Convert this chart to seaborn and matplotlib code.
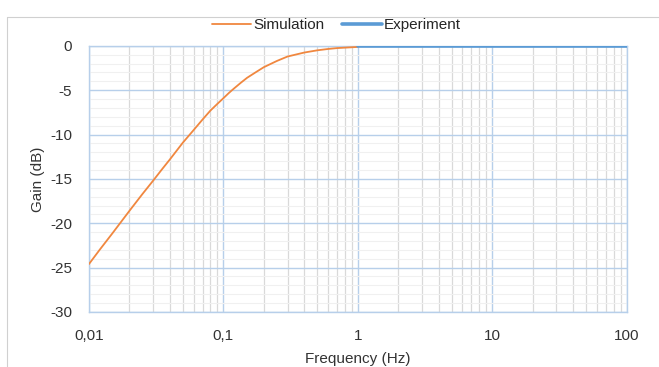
import numpy as np
import pandas as pd
import matplotlib.pyplot as plt
import seaborn as sns
from matplotlib.lines import Line2D
from matplotlib.ticker import FixedLocator, FixedFormatter, LogLocator, NullFormatter

# values
SIM_FREQ = [0.01, 0.012, 0.015, 0.02, 0.025, 0.03, 0.035, 0.04, 0.05, 0.06, 0.07, 0.08, 0.09,
            0.1, 0.11, 0.12, 0.135, 0.15, 0.175, 0.2, 0.25, 0.3, 0.4, 0.5, 0.6, 0.7, 0.8, 1.0]
SIM_GAIN = [-24.6, -23.0, -21.1, -18.6, -16.7, -15.2, -13.9, -12.8, -10.9, -9.5, -8.3, -7.3, -6.55,
            -5.9, -5.3, -4.8, -4.15, -3.6, -2.95, -2.4, -1.7, -1.2, -0.75, -0.5, -0.35, -0.25, -0.2, -0.12]
EXP_FREQ = [1, 2, 5, 10, 20, 50, 100]
EXP_GAIN = [0, 0, 0, 0, 0, 0, 0]

X_TICKS = [0.01, 0.1, 1, 10, 100]
X_LABELS = ['0,01', '0,1', '1', '10', '100']
Y_TICKS = [0, -5, -10, -15, -20, -25, -30]

sns.set_style('white')
plt.rcParams['font.family'] = ['Liberation Sans', 'DejaVu Sans']
plt.rcParams['font.size'] = 11
plt.rcParams['axes.unicode_minus'] = False

sim = pd.DataFrame({'freq': SIM_FREQ, 'gain': SIM_GAIN})
exp = pd.DataFrame({'freq': EXP_FREQ, 'gain': EXP_GAIN})

fig = plt.figure(figsize=(6.59, 3.67), dpi=100)
ax = fig.add_axes([0.135, 0.150, 0.816, 0.725])

sns.lineplot(ax=ax, data=sim, x='freq', y='gain', color='#f0873f', lw=1.3, label='Simulation', zorder=4)
sns.lineplot(ax=ax, data=exp, x='freq', y='gain', color='#5b9bd5', lw=2.6, label='Experiment', zorder=5)

ax.set_xscale('log')
ax.set_xlim(0.01, 100)
ax.set_ylim(-30, 0)

ax.xaxis.set_major_locator(FixedLocator(X_TICKS))
ax.xaxis.set_major_formatter(FixedFormatter(X_LABELS))
ax.xaxis.set_minor_locator(LogLocator(base=10, subs=np.arange(2, 10)))
ax.xaxis.set_minor_formatter(NullFormatter())
ax.set_yticks(Y_TICKS)
ax.set_yticks(np.arange(-30, 1, 1), minor=True)

# gridlines like the spreadsheet chart
ax.grid(which='major', axis='both', color='#b7cfea', lw=1.0, zorder=1)
ax.grid(which='minor', axis='x', color='#d9d9d9', lw=0.9, zorder=0)
ax.grid(which='minor', axis='y', color='#f0f0f0', lw=0.8, zorder=0)
ax.set_axisbelow(True)
ax.tick_params(which='both', length=0, labelsize=11, colors='#333333')
ax.tick_params(axis='x', pad=12)
ax.tick_params(axis='y', pad=12)
for s in ax.spines.values():
    s.set_color('#b7cfea')
    s.set_linewidth(1.0)

ax.set_xlabel('Frequency (Hz)', fontsize=11, color='#333333', labelpad=7)
ax.set_ylabel('Gain (dB)', fontsize=11, color='#333333', labelpad=4)

handles, labels = ax.get_legend_handles_labels()
ax.get_legend().remove()
fig.legend(handles, labels, loc='center', bbox_to_anchor=(0.51, 1 - 25 / 367), ncol=2, frameon=False,
           fontsize=11, handlelength=2.6, handletextpad=0.1, columnspacing=1.2, borderaxespad=0)

# faint outer border of the chart area
fig.add_artist(Line2D([7 / 659, 7 / 659], [0, 1 - 17 / 367], color='#d0d0d0', lw=0.8))
fig.add_artist(Line2D([7 / 659, 1], [1 - 17 / 367, 1 - 17 / 367], color='#d0d0d0', lw=0.8))

plt.savefig('out.png', dpi=100)
plt.close()
